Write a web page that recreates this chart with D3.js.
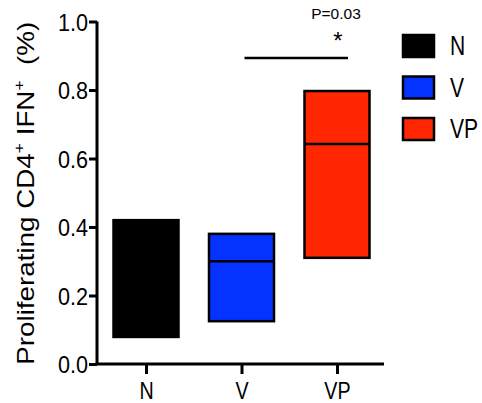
<!DOCTYPE html>
<html>
<head>
<meta charset="utf-8">
<script src="https://cdn.jsdelivr.net/npm/d3@7"></script>
<style>
body { margin: 0; background: #fff; }
text { font-family: "Liberation Sans", Arial, sans-serif; fill: #000; }
</style>
</head>
<body>
<div id="graph"></div>
<script>
!(function(){
"use strict"
var groups = ["N", "V", "VP"]
var lows = [0.079, 0.125, 0.31]
var medians = [0.25, 0.30, 0.642]
var highs = [0.42, 0.38, 0.797]
var colors = ["#000000", "#0433ff", "#ff2600"]
var yTicks = [0.0, 0.2, 0.4, 0.6, 0.8, 1.0]
var pText = "P=0.03"

var width = 482, height = 403
var margin = {top: 22, left: 97, bottom: 39, right: 98}

var svg = d3.select("#graph").append("svg")
	.attr("width", width).attr("height", height)

var x = d3.scalePoint().domain(groups).range([146, 337])
var y = d3.scaleLinear().domain([0, 1]).range([height - margin.bottom, margin.top - 0.5])
var boxW = 65

// squeeze text horizontally, the original font is narrower
function narrow(sel, f) {
	sel.each(function(){
		var len = this.getComputedTextLength()
		d3.select(this).attr("textLength", len * f).attr("lengthAdjust", "spacingAndGlyphs")
	})
}

var chart = svg.append("g")

// boxes
var box = chart.selectAll("g.box").data(groups).enter().append("g")
box.append("rect")
	.attr("x", function(d){ return x(d) - boxW / 2 })
	.attr("y", function(d, i){ return y(highs[i]) })
	.attr("width", boxW)
	.attr("height", function(d, i){ return y(lows[i]) - y(highs[i]) })
	.attr("fill", function(d, i){ return colors[i] })
	.attr("stroke", "#000").attr("stroke-width", 2.5)
box.append("line")
	.attr("x1", function(d){ return x(d) - boxW / 2 })
	.attr("x2", function(d){ return x(d) + boxW / 2 })
	.attr("y1", function(d, i){ return y(medians[i]) })
	.attr("y2", function(d, i){ return y(medians[i]) })
	.attr("stroke", "#000").attr("stroke-width", 2.5)

// axes
var yAxis = d3.axisLeft(y).tickValues(yTicks).tickFormat(d3.format(".1f")).tickSize(8).tickPadding(2)
var gy = svg.append("g").attr("transform", "translate(" + margin.left + ",0)").call(yAxis)
var xAxis = d3.axisBottom(x).tickSize(10)
var gx = svg.append("g").attr("transform", "translate(0," + (height - margin.bottom) + ")").call(xAxis)
gy.select(".domain").attr("d", "M0," + y(1) + "V" + y(0))
gx.select(".domain").attr("d", "M" + margin.left + ",0H384")
svg.selectAll(".domain, .tick line").attr("stroke", "#000").attr("stroke-width", 3)
svg.selectAll(".tick text").attr("font-family", "Liberation Sans, Arial, sans-serif")
gy.selectAll(".tick text").attr("font-size", 24).attr("x", -9).attr("dy", "0.36em")
gx.selectAll(".tick text").attr("font-size", 24).attr("y", 35).attr("dy", 0)
narrow(gy.selectAll(".tick text"), 0.9)
narrow(gx.selectAll(".tick text"), 0.82)

// y label
var yl = svg.append("text")
	.attr("transform", "translate(34," + ((y(0) + y(1)) / 2 + 0.5) + ") rotate(-90)")
	.attr("text-anchor", "middle")
	.attr("font-size", 24)
yl.append("tspan").text("Proliferating CD4")
yl.append("tspan").text("+").attr("font-size", 15).attr("dy", -10)
yl.append("tspan").text(" IFN").attr("font-size", 24).attr("dy", 10)
yl.append("tspan").text("+").attr("font-size", 15).attr("dy", -10)
yl.append("tspan").text("\u00a0\u00a0(%)").attr("font-size", 24).attr("dy", 10)
yl.attr("textLength", 343).attr("lengthAdjust", "spacingAndGlyphs")

// significance
svg.append("line")
	.attr("x1", x("V") + 3).attr("x2", x("VP") + 11)
	.attr("y1", 58).attr("y2", 58)
	.attr("stroke", "#000").attr("stroke-width", 2.5)
svg.append("text").attr("x", 338).attr("y", 49).attr("text-anchor", "middle")
	.attr("font-size", 24).text("*")
svg.append("text").attr("x", 336).attr("y", 19).attr("text-anchor", "middle")
	.attr("font-size", 15.5).text(pText)

// legend
var leg = svg.selectAll("g.leg").data(groups).enter().append("g")
	.attr("transform", function(d, i){ return "translate(402," + (34 + i * 41.5) + ")" })
leg.append("rect")
	.attr("x", 1).attr("y", 1).attr("width", 31).attr("height", 22)
	.attr("fill", function(d, i){ return colors[i] })
	.attr("stroke", "#000").attr("stroke-width", 2.5)
leg.append("text")
	.attr("transform", "translate(48,21) scale(0.78,1)")
	.attr("font-size", 27)
	.text(function(d){ return d })
}());
</script>
</body>
</html>
